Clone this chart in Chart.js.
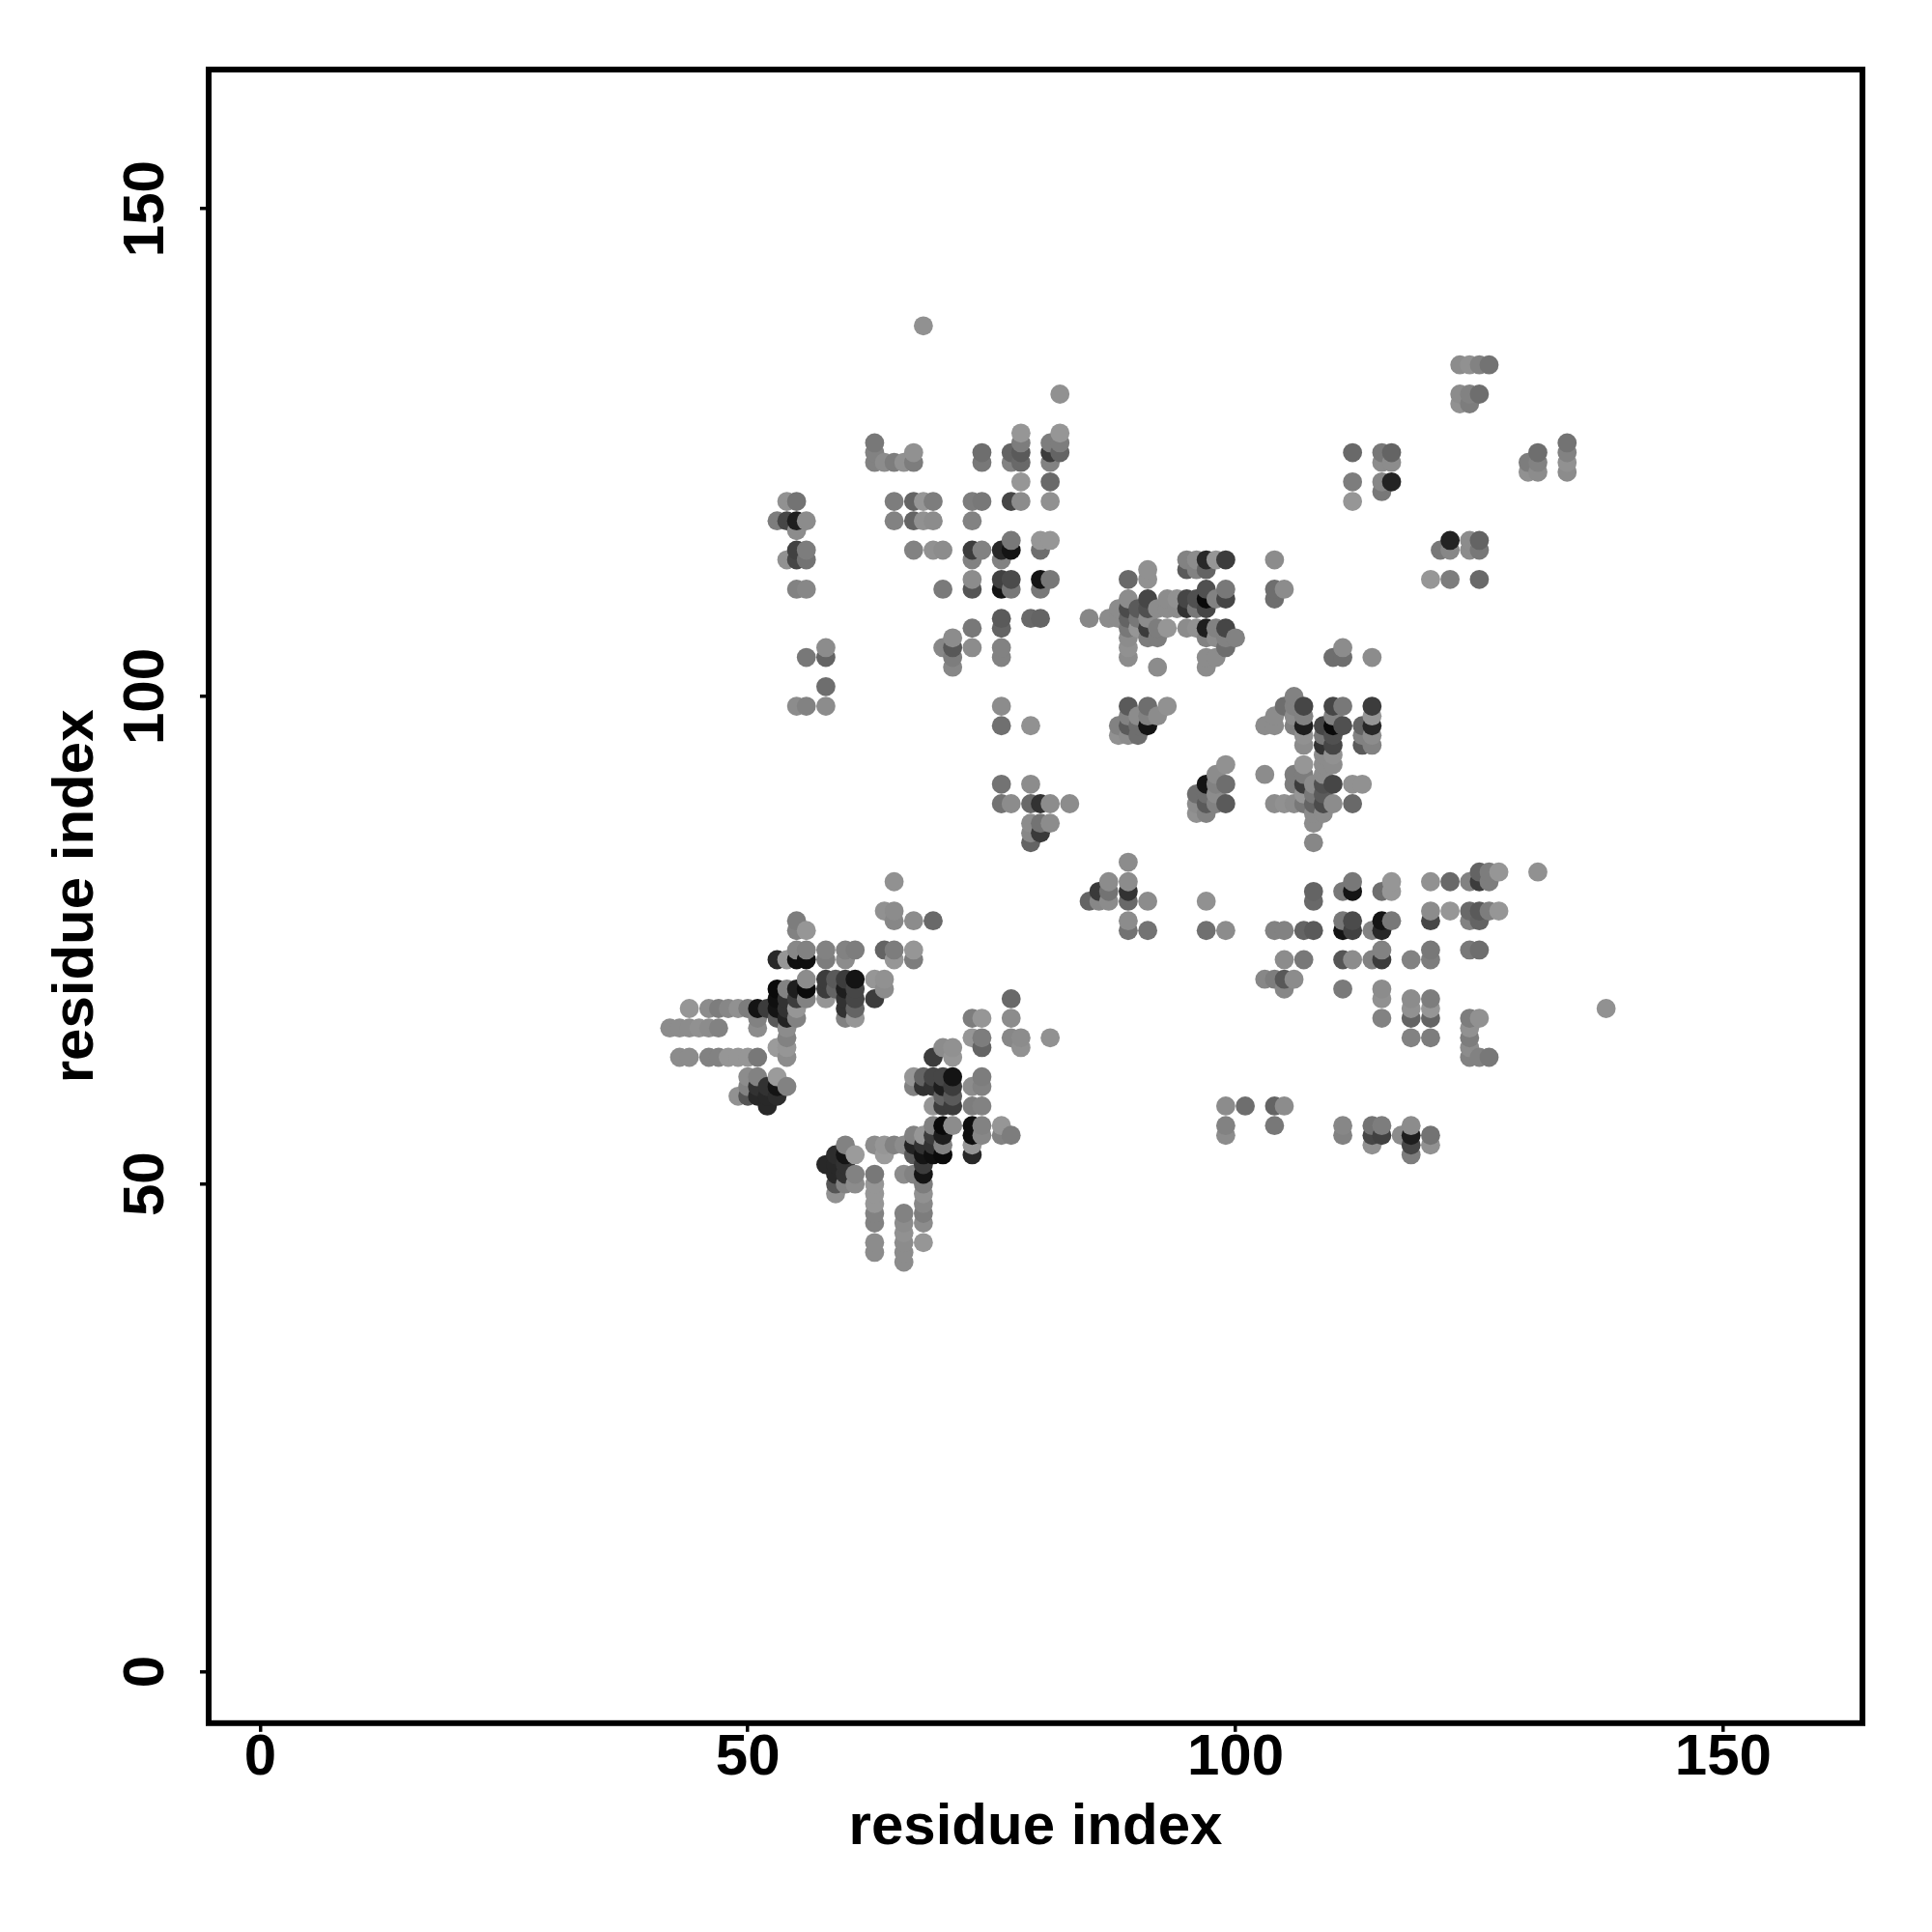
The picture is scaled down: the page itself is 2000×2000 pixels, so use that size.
<!DOCTYPE html>
<html>
<head>
<meta charset="utf-8">
<title>contact map</title>
<script src="https://cdn.jsdelivr.net/npm/chart.js@4/dist/chart.umd.min.js"></script>
<style>
  html, body { margin: 0; padding: 0; background: #fff; }
  canvas { display: block; }
</style>
</head>
<body>
<canvas id="contactMap" width="2000" height="2000"></canvas>
<script>
const axisTicks = [0, 50, 100, 150];
const axisLabel = "residue index";

// one entry per residue column, points inside a column go bottom to top
const residueX = [
  42, 43, 44, 45, 46, 47, 48, 49, 50, 51, 52, 53, 54, 55, 56, 58, 59, 60, 61, 63,
  64, 65, 66, 67, 68, 69, 70, 71, 73, 74, 76, 77, 78, 79, 80, 81, 82, 83, 85, 86,
  87, 88, 89, 90, 91, 92, 93, 94, 95, 96, 97, 98, 99, 100, 101, 103, 104, 105, 106, 107,
  108, 109, 110, 111, 112, 113, 114, 115, 116, 117, 118, 120, 121, 122, 123, 124, 125, 126, 127, 130,
  131, 134, 138
];

const residueY = [
  [66],
  [63, 66],
  [63, 66, 68],
  [66],
  [63, 66, 68],
  [63, 66, 68],
  [63, 68],
  [59, 63, 68],
  [59, 60, 61, 63, 68],
  [59, 60, 61, 63, 66, 67, 68],
  [58, 59, 60, 68],
  [59, 60, 61, 64, 67, 68, 69, 70, 73, 118],
  [60, 63, 64, 65, 66, 67, 68, 69, 70, 73, 114, 118, 120],
  [67, 68, 69, 70, 73, 74, 76, 77, 99, 111, 114, 115, 117, 118, 120],
  [69, 70, 71, 73, 74, 76, 99, 104, 111, 114, 115, 118],
  [52, 69, 70, 71, 73, 74, 99, 101, 104, 105],
  [49, 50, 51, 52, 53, 70, 71],
  [50, 51, 52, 53, 54, 67, 68, 69, 70, 71, 73, 74],
  [50, 51, 53, 67, 68, 69, 70, 71, 74],
  [43, 44, 46, 47, 48, 49, 50, 51, 54, 69, 71, 124, 125, 126],
  [53, 54, 70, 71, 74, 78, 124],
  [54, 73, 74, 77, 78, 81, 118, 120, 124],
  [42, 43, 44, 45, 46, 47, 51, 54, 124],
  [51, 53, 54, 55, 60, 61, 73, 74, 77, 115, 118, 120, 124, 125],
  [44, 46, 47, 48, 49, 50, 51, 52, 53, 54, 55, 60, 61, 118, 120, 138],
  [53, 54, 55, 56, 58, 60, 61, 63, 77, 115, 118, 120],
  [53, 54, 55, 56, 58, 59, 60, 61, 64, 105, 111, 115],
  [56, 58, 59, 60, 61, 63, 64, 103, 104, 105, 106],
  [53, 54, 55, 56, 58, 60, 65, 67, 105, 107, 111, 112, 114, 115, 118, 120],
  [55, 56, 58, 60, 61, 64, 65, 67, 115, 120, 124, 125],
  [55, 56, 89, 91, 97, 99, 104, 105, 107, 108, 111, 112, 114, 115],
  [55, 65, 67, 69, 89, 111, 112, 115, 116, 120, 124, 125],
  [64, 65, 120, 122, 124, 125, 126, 127],
  [85, 86, 87, 89, 91, 97, 108],
  [86, 87, 89, 108, 111, 112, 115, 116],
  [65, 87, 89, 112, 116, 120, 122, 124, 125, 126],
  [125, 126, 127, 131],
  [89],
  [79, 108],
  [79, 80],
  [79, 80, 81, 108],
  [96, 97, 108, 109],
  [76, 77, 79, 80, 81, 83, 96, 97, 98, 99, 104, 105, 106, 107, 108, 109, 110, 112],
  [96, 97, 98, 107, 108, 109],
  [76, 79, 97, 98, 99, 106, 107, 108, 109, 110, 112, 113],
  [98, 103, 106, 107, 109],
  [99, 107, 109, 110],
  [109, 110],
  [107, 109, 110, 113, 114],
  [88, 89, 90, 107, 109, 110, 113, 114],
  [76, 79, 88, 89, 90, 91, 103, 104, 106, 107, 109, 110, 111, 113, 114],
  [89, 90, 91, 92, 104, 106, 107, 110, 114],
  [55, 56, 58, 76, 89, 91, 93, 105, 106, 107, 110, 111, 114],
  [106],
  [58],
  [71, 92, 97],
  [56, 58, 71, 76, 89, 97, 98, 110, 111, 114],
  [58, 70, 71, 73, 76, 89, 99, 111],
  [71, 89, 91, 92, 97, 98, 99, 100],
  [73, 76, 89, 90, 91, 92, 93, 95, 96, 97, 98, 99],
  [76, 79, 80, 85, 87, 88, 89, 90, 91],
  [88, 89, 90, 91, 92, 93, 94, 95, 96, 97],
  [89, 91, 93, 94, 95, 96, 97, 98, 99, 104],
  [55, 56, 70, 73, 76, 77, 80, 97, 99, 104, 105],
  [73, 76, 77, 80, 81, 89, 91, 120, 122, 125],
  [91, 95, 96, 97],
  [54, 55, 56, 73, 76, 95, 96, 97, 98, 99, 104],
  [55, 56, 67, 69, 70, 73, 74, 76, 77, 80, 121, 122, 124, 125],
  [77, 80, 81, 122, 124, 125],
  [55],
  [53, 54, 55, 56, 65, 67, 68, 69, 73],
  [54, 55, 65, 67, 68, 69, 73, 74, 77, 78, 81, 112],
  [115],
  [78, 81, 112, 115, 116],
  [130, 131, 134],
  [63, 64, 65, 66, 67, 74, 77, 78, 81, 115, 116, 130, 131, 134],
  [63, 67, 74, 77, 78, 81, 82, 112, 115, 116, 131, 134],
  [63, 78, 81, 82, 134],
  [78, 82],
  [123, 124],
  [82, 123, 124, 125],
  [123, 124, 125, 126],
  [68]
];

// grey level of each point, same layout as residueY
const pointGrey = [
  [140],
  [140, 140],
  [140, 140, 150],
  [145],
  [130, 140, 140],
  [130, 130, 125],
  [150, 135],
  [145, 150, 145],
  [85, 130, 140, 150, 125],
  [40, 50, 130, 120, 140, 130, 20],
  [40, 40, 50, 60],
  [45, 20, 155, 155, 90, 20, 15, 10, 40, 125],
  [130, 140, 150, 130, 140, 35, 50, 50, 130, 150, 145, 70, 145],
  [130, 150, 60, 30, 15, 135, 130, 125, 140, 130, 70, 65, 140, 30, 115],
  [130, 10, 140, 15, 130, 150, 130, 120, 135, 115, 125, 140],
  [40, 150, 60, 60, 125, 130, 140, 110, 100, 140],
  [145, 85, 40, 40, 45, 100, 90],
  [130, 50, 50, 20, 130, 130, 50, 50, 30, 60, 140, 130],
  [140, 130, 155, 150, 100, 70, 70, 20, 125],
  [140, 140, 130, 130, 150, 150, 150, 120, 140, 60, 150, 130, 130, 120],
  [155, 150, 140, 145, 100, 145, 140],
  [130, 150, 125, 135, 140, 145, 130, 125, 125],
  [140, 140, 140, 145, 140, 130, 140, 140, 145],
  [130, 90, 35, 130, 130, 150, 125, 150, 140, 130, 100, 100, 125, 145],
  [150, 140, 125, 135, 145, 125, 20, 60, 20, 50, 150, 50, 100, 145, 150, 145],
  [15, 50, 60, 130, 150, 50, 70, 60, 105, 145, 140, 125],
  [10, 130, 30, 10, 60, 100, 30, 70, 140, 135, 122, 140],
  [140, 60, 90, 60, 20, 150, 145, 135, 125, 88, 140],
  [40, 150, 15, 15, 125, 140, 150, 125, 140, 120, 85, 140, 130, 60, 130, 125],
  [135, 130, 130, 130, 125, 100, 125, 150, 130, 120, 120, 110],
  [130, 150, 115, 115, 112, 140, 130, 130, 100, 90, 20, 65, 130, 40],
  [125, 135, 140, 105, 140, 120, 75, 20, 120, 70, 130, 100],
  [145, 140, 140, 150, 105, 90, 125, 150],
  [100, 135, 140, 105, 140, 145, 105],
  [58, 115, 50, 100, 120, 20, 110, 150],
  [145, 140, 140, 120, 150, 145, 105, 130, 60, 125],
  [100, 125, 150, 145],
  [140],
  [100, 135],
  [135, 58],
  [140, 115, 140, 140],
  [145, 130, 140, 140],
  [115, 140, 105, 50, 140, 140, 140, 90, 130, 90, 140, 145, 140, 120, 100, 75, 140, 105],
  [110, 110, 140, 150, 120, 90],
  [115, 140, 20, 130, 110, 125, 60, 140, 80, 70, 145, 145],
  [140, 140, 125, 125, 140],
  [145, 150, 140, 140],
  [140, 145],
  [140, 50, 70, 90, 130],
  [145, 140, 110, 145, 120, 80, 130, 140],
  [112, 145, 130, 90, 110, 20, 140, 140, 130, 30, 70, 10, 80, 100, 40],
  [130, 140, 130, 140, 140, 140, 130, 130, 150],
  [140, 130, 140, 140, 90, 110, 145, 110, 130, 70, 70, 120, 60],
  [130],
  [110],
  [135, 140, 140],
  [120, 100, 125, 130, 140, 140, 140, 110, 110, 140],
  [140, 135, 88, 140, 130, 145, 110, 140],
  [140, 140, 125, 125, 130, 140, 130, 130],
  [120, 100, 120, 150, 60, 125, 150, 140, 145, 30, 130, 70],
  [90, 105, 100, 135, 140, 140, 100, 120, 140],
  [140, 75, 90, 80, 140, 140, 140, 50, 120, 70],
  [140, 70, 140, 145, 70, 80, 10, 130, 70, 110],
  [130, 135, 122, 85, 20, 120, 120, 80, 120, 110, 140],
  [140, 65, 75, 20, 120, 105, 145, 150, 125, 105],
  [145, 90, 130, 100],
  [145, 70, 115, 130, 130, 130, 140, 40, 150, 60, 140],
  [65, 125, 130, 145, 140, 60, 130, 40, 20, 110, 120, 135, 140, 120],
  [120, 150, 150, 35, 140, 100],
  [140],
  [125, 70, 30, 140, 130, 100, 145, 140, 130],
  [145, 115, 125, 100, 150, 125, 125, 120, 70, 140, 145, 150],
  [120],
  [150, 105, 125, 135, 35],
  [145, 140, 140],
  [130, 140, 125, 145, 125, 120, 130, 105, 130, 140, 140, 125, 130, 145],
  [130, 145, 110, 100, 90, 60, 100, 105, 120, 100, 110, 130],
  [120, 125, 125, 125, 115],
  [150, 150],
  [145, 125],
  [145, 140, 130, 110],
  [140, 145, 130, 115],
  [145]
];

const points = [];
const pointColors = [];
residueX.forEach((x, i) => {
  residueY[i].forEach((y, j) => {
    const g = pointGrey[i][j];
    points.push({ x: x, y: y });
    pointColors.push("rgb(" + g + "," + g + "," + g + ")");
  });
});

// frame around the plot area
const plotFrame = {
  id: "plotFrame",
  afterDatasetsDraw(chart) {
    const { ctx, chartArea } = chart;
    ctx.save();
    ctx.strokeStyle = "#000";
    ctx.lineWidth = 6;
    ctx.lineJoin = "miter";
    ctx.strokeRect(chartArea.left, chartArea.top, chartArea.right - chartArea.left, chartArea.bottom - chartArea.top);
    ctx.restore();
  },
};

const font = { family: "'Liberation Sans'", weight: "bold", size: 60 };

const setTicks = (scale) => {
  scale.ticks = axisTicks.map((v) => ({ value: v }));
};

new Chart(document.getElementById("contactMap").getContext("2d"), {
  type: "scatter",
  data: {
    datasets: [{
      data: points,
      pointRadius: 9.9,
      pointBorderWidth: 0,
      pointBackgroundColor: pointColors,
    }],
  },
  plugins: [plotFrame],
  options: {
    responsive: false,
    animation: false,
    layout: { padding: { top: 72, right: 72, left: 0, bottom: 0 } },
    plugins: { legend: { display: false }, tooltip: { enabled: false } },
    scales: {
      x: {
        type: "linear",
        min: -5.28,
        max: 164.28,
        afterBuildTicks: setTicks,
        afterFit(scale) {
          scale.height = 216.2;
          scale.paddingLeft = 0;
          scale.paddingRight = 0;
        },
        border: { display: false },
        grid: { drawOnChartArea: false, color: "#000", lineWidth: 3.5, tickLength: 9 },
        ticks: {
          color: "#000",
          font: font,
          padding: -8,
          autoSkip: false,
          maxRotation: 0,
          minRotation: 0,
          callback: (v) => String(v),
        },
        title: { display: true, text: axisLabel, color: "#000", font: font, padding: { top: 0, bottom: 71.5 } },
      },
      y: {
        type: "linear",
        min: -5.28,
        max: 164.28,
        afterBuildTicks: setTicks,
        afterFit(scale) {
          scale.width = 216;
          scale.paddingTop = 0;
          scale.paddingBottom = 0;
        },
        border: { display: false },
        grid: { drawOnChartArea: false, color: "#000", lineWidth: 3.5, tickLength: 9 },
        ticks: {
          color: "#000",
          font: font,
          padding: 4.5,
          autoSkip: false,
          minRotation: 90,
          maxRotation: 90,
          crossAlign: "center",
          callback: (v) => String(v),
        },
        title: { display: true, text: axisLabel, color: "#000", font: font, padding: { top: 43, bottom: 0 } },
      },
    },
  },
});
</script>
</body>
</html>
